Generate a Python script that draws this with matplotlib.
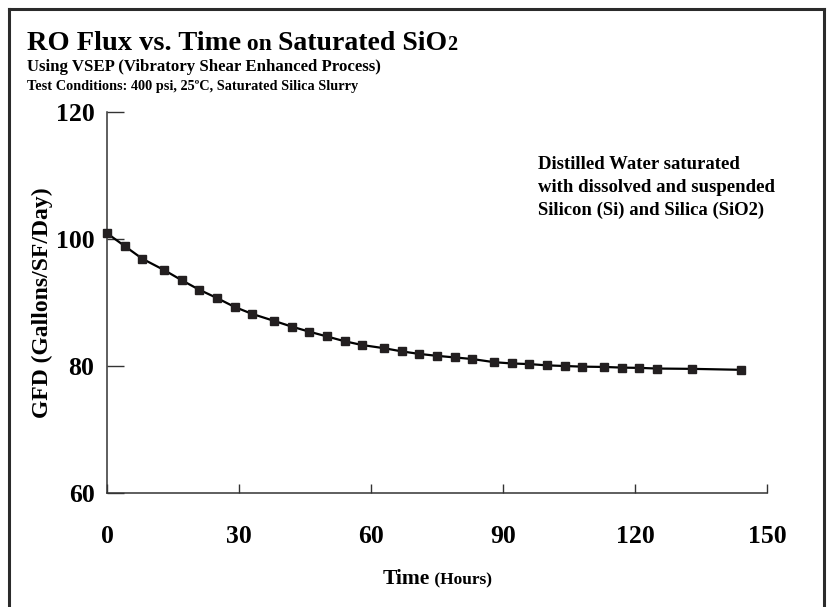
import matplotlib
matplotlib.use("Agg")
import matplotlib.pyplot as plt
from matplotlib.lines import Line2D

# data
hours = [0, 4, 8, 13, 17, 21, 25, 29, 33, 38, 42, 46, 50, 54, 58, 63,
         67, 71, 75, 79, 83, 88, 92, 96, 100, 104, 108, 113, 117, 121, 125, 133, 144]
gfd = [100.9, 98.9, 96.9, 95.1, 93.5, 92.0, 90.7, 89.3, 88.2, 87.1, 86.2, 85.4,
       84.65, 83.9, 83.3, 82.8, 82.3, 81.9, 81.6, 81.35, 81.1, 80.6, 80.4, 80.3,
       80.1, 80.0, 79.9, 79.85, 79.75, 79.7, 79.6, 79.55, 79.4]
x_ticks = [0, 30, 60, 90, 120, 150]
y_ticks = [60, 80, 100, 120]

note = "Distilled Water saturated\nwith dissolved and suspended\nSilicon (Si) and Silica (SiO2)"

SERIF = "Liberation Serif"
INK = "#231f20"

W, H = 828, 607
fig = plt.figure(figsize=(W / 100, H / 100), dpi=100)
ax = fig.add_axes([107 / W, 1 - 493 / H, 660 / W, 381 / H])

ax.plot(hours, gfd, color="black", lw=1.6, marker="s", ms=5.4,
        mfc=INK, mec=INK, clip_on=False, zorder=3)

ax.set_xlim(0, 150)
ax.set_ylim(60, 120)
ax.set_xticks(x_ticks)
ax.set_yticks(y_ticks)
for s in ["top", "right"]:
    ax.spines[s].set_visible(False)
for s in ["left", "bottom"]:
    ax.spines[s].set_linewidth(1.1)
    ax.spines[s].set_color("#333333")
ax.tick_params(axis="y", direction="in", length=12, width=1.0, color="#333333", pad=9)
ax.tick_params(axis="x", direction="in", length=6.5, width=1.0, color="#333333", pad=23)
for lab in ax.get_xticklabels() + ax.get_yticklabels():
    lab.set_fontfamily(SERIF)
    lab.set_fontweight("bold")
    lab.set_fontsize(18.5)

ax.set_ylabel("GFD (Gallons/SF/Day)", fontfamily=SERIF, fontweight="bold",
              fontsize=17, labelpad=2)

ax.text(0.653, 0.885, note, transform=ax.transAxes, ha="left", va="top",
        fontfamily=SERIF, fontweight="bold", fontsize=13.5, linespacing=1.45)

renderer = fig.canvas.get_renderer()


def runs(x_px, y_px, parts, ha="left"):
    # place text pieces of different sizes one after another on a baseline
    texts = []
    for txt, size in parts:
        t = fig.text(0, 1 - y_px / H, txt, fontfamily=SERIF, fontweight="bold",
                     fontsize=size, va="baseline", ha="left")
        texts.append(t)
    widths = [t.get_window_extent(renderer).width for t in texts]
    start = x_px - (sum(widths) / 2 if ha == "center" else 0)
    for t, w in zip(texts, widths):
        t.set_x(start / W)
        start += w
    return texts


runs(27, 50, [("RO Flux vs. Time", 20.5), (" on ", 17), ("Saturated SiO", 20.0), ("2", 14.5)])
runs(27, 71, [("Using VSEP (Vibratory Shear Enhanced Process)", 12.1)])
runs(27, 90, [("Test Conditions: 400 psi, 25ºC, Saturated Silica Slurry", 10.3)])
runs(437, 584, [("Time", 15.5), (" (Hours)", 12.5)], ha="center")

# page frame (bottom edge is cut off in the original)
frame = dict(color="#2b2b2b", lw=2.2, transform=fig.transFigure)
fig.add_artist(Line2D([9 / W, 9 / W], [0, 1 - 9 / H], **frame))
fig.add_artist(Line2D([9 / W, 824 / W], [1 - 9 / H, 1 - 9 / H], **frame))
fig.add_artist(Line2D([824 / W, 824 / W], [0, 1 - 9 / H], **frame))

fig.savefig("out.png", dpi=100)
